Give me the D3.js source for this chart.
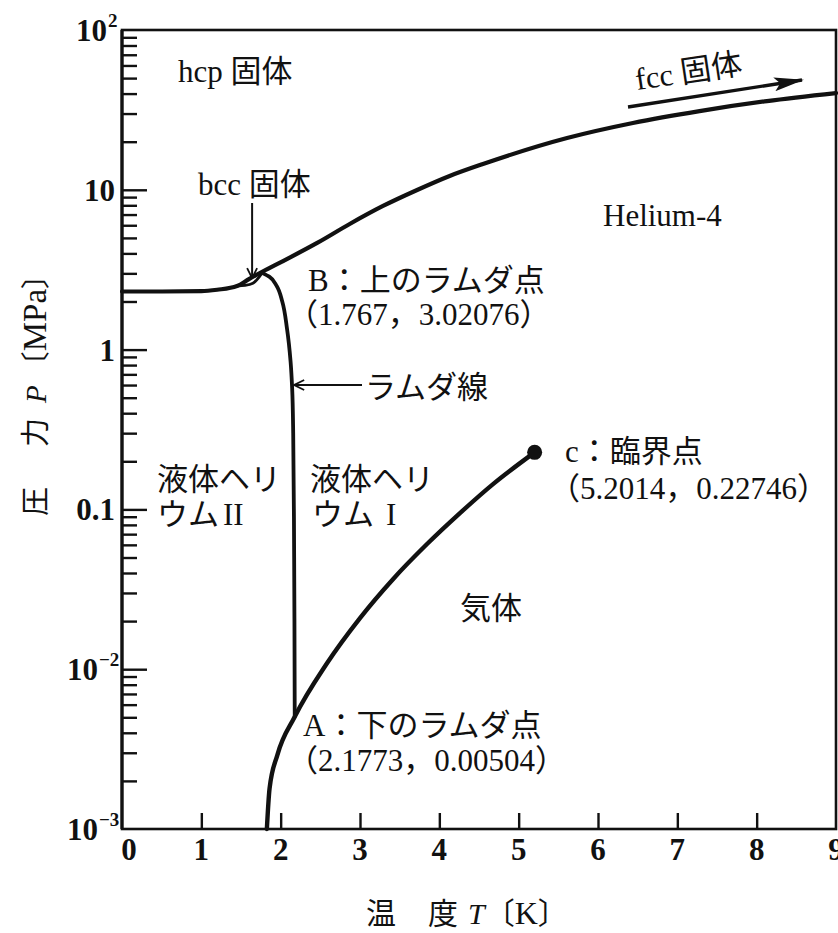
<!DOCTYPE html>
<html>
<head>
<meta charset="utf-8">
<script src="https://cdn.jsdelivr.net/npm/d3@7"></script>
<style>
  html, body { margin: 0; padding: 0; background: #fff; }
  svg { display: block; }
  .lbl { font-family: "Liberation Serif", "Noto Sans CJK JP", serif; fill: #111; }
  .cjk { font-family: "Noto Sans CJK JP", sans-serif; }
  .tick-num { font-family: "Liberation Serif", serif; font-weight: bold; fill: #111; }
</style>
</head>
<body>
<svg id="chart" width="838" height="933"></svg>
<script>
// ---- axes ----
const tempTicks = [0, 1, 2, 3, 4, 5, 6, 7, 8, 9];
const pressureDecades = [1e-3, 1e-2, 1e-1, 1, 10, 100];
const pressureBase = ["10", "10", "0.1", "1", "10", "10"];
const pressureExp = ["−3", "−2", "", "", "", "2"];

// ---- phase boundaries of helium-4 (T in K, P in MPa) ----
// melting curve: liquid–hcp, hcp–bcc, then liquid–hcp/fcc up to 9 K
const meltT = [0, 0.5, 1.0, 1.2, 1.45, 1.6, 1.767, 2.03, 2.46, 2.87, 3.29, 3.72, 4.13, 4.55, 5.61, 6.44, 7.28, 8.13, 9.0];
const meltP = [2.31, 2.31, 2.32, 2.37, 2.50, 2.76, 3.07, 3.58, 4.65, 6.11, 7.92, 9.97, 12.2, 14.5, 21.1, 26.2, 31.1, 35.9, 40.3];
// lower edge of the bcc pocket (bcc–liquid)
const bccT = [1.45, 1.55, 1.65, 1.767];
const bccP = [2.50, 2.52, 2.60, 3.02076];
// lambda line from B down to A
const lambdaT = [1.767, 1.86, 1.95, 2.02, 2.08, 2.125, 2.145, 2.158, 2.17, 2.1773];
const lambdaP = [3.02076, 2.85, 2.5, 2.0, 1.35, 0.84, 0.57, 0.3, 0.05, 0.00504];
// saturated vapour pressure curve up to the critical point
const vaporT = [1.826, 1.86, 1.96, 2.1773, 2.584, 3.0, 3.416, 3.845, 4.26, 4.677, 5.2014];
const vaporP = [0.001, 0.00179, 0.00292, 0.00504, 0.0109, 0.0209, 0.0366, 0.0607, 0.0948, 0.144, 0.22746];
// special points
const lambdaLowT = 2.1773, lambdaLowP = 0.00504;   // A
const lambdaHighT = 1.767, lambdaHighP = 3.02076;  // B
const criticalT = 5.2014, criticalP = 0.22746;     // c

const svg = d3.select("#chart");
const W = 838, H = 933;
const M = { left: 122, top: 30, right: 2, bottom: 104 };

const x = d3.scaleLinear().domain([0, 9]).range([M.left, W - M.right]);
const y = d3.scaleLog().domain([1e-3, 100]).range([H - M.bottom, M.top]);

const ink = "#111";

// ---- ticks ----
const minorP = [];
pressureDecades.slice(0, -1).forEach(d => { for (let k = 2; k <= 9; k++) minorP.push(d * k); });

const yMajorAxis = d3.axisLeft(y).tickValues(pressureDecades.slice(1, -1)).tickSize(-25).tickFormat(() => "");
const yMinorAxis = d3.axisLeft(y).tickValues(minorP).tickSize(-15).tickFormat(() => "");
const xAxis = d3.axisBottom(x).tickValues(tempTicks.slice(1, -1)).tickSize(-16).tickFormat(() => "");

function styleAxis(g) {
  g.select(".domain").remove();
  g.selectAll(".tick line").attr("stroke", ink).attr("stroke-width", 2.4);
}
svg.append("g").attr("transform", `translate(${M.left},0)`).call(yMajorAxis).call(styleAxis);
svg.append("g").attr("transform", `translate(${M.left},0)`).call(yMinorAxis).call(styleAxis);
svg.append("g").attr("transform", `translate(0,${H - M.bottom})`).call(xAxis).call(styleAxis);

// frame
svg.append("rect")
  .attr("x", M.left).attr("y", M.top)
  .attr("width", W - M.right - M.left).attr("height", H - M.bottom - M.top)
  .attr("fill", "none").attr("stroke", ink).attr("stroke-width", 2.6);
svg.append("line").attr("x1", M.left).attr("x2", M.left).attr("y1", M.top).attr("y2", H - M.bottom)
  .attr("stroke", ink).attr("stroke-width", 3.2);

// tick labels
tempTicks.forEach(t => {
  svg.append("text").attr("class", "tick-num")
    .attr("x", x(t) + (t === 0 ? 7 : 0)).attr("y", H - M.bottom + 31)
    .attr("text-anchor", "middle").attr("font-size", 31)
    .text(t);
});
pressureDecades.forEach((p, i) => {
  const shift = pressureExp[i] ? (pressureExp[i].length > 1 ? 17 : 8) : 0;
  svg.append("text").attr("class", "tick-num")
    .attr("x", M.left - 7 - shift)
    .attr("y", y(p) + 11)
    .attr("text-anchor", "end").attr("font-size", 31)
    .text(pressureBase[i]);
  if (pressureExp[i]) {
    svg.append("text").attr("class", "tick-num")
      .attr("x", M.left - 6 - shift)
      .attr("y", y(p) - 3)
      .attr("font-size", 19)
      .text(pressureExp[i]);
  }
});

// ---- curves ----
const zip = (ts, ps) => ts.map((t, i) => [t, ps[i]]);
const lineX = d3.line().x(d => x(d[0])).y(d => y(d[1])).curve(d3.curveMonotoneX);
const lineY = d3.line().x(d => x(d[0])).y(d => y(d[1])).curve(d3.curveMonotoneY);

const curves = svg.append("g").attr("fill", "none").attr("stroke", ink)
  .attr("stroke-linecap", "round").attr("stroke-linejoin", "round");
curves.append("path").attr("d", lineX(zip(meltT, meltP))).attr("stroke-width", 4.2);
curves.append("path").attr("d", lineX(zip(bccT, bccP))).attr("stroke-width", 2.8);
curves.append("path").attr("d", lineY(zip(lambdaT, lambdaP))).attr("stroke-width", 3.8);
curves.append("path").attr("d", lineX(zip(vaporT, vaporP))).attr("stroke-width", 4.4);

svg.append("circle").attr("cx", x(criticalT)).attr("cy", y(criticalP)).attr("r", 7.5).attr("fill", ink);

// ---- arrows ----
const defs = svg.append("defs");
defs.append("marker").attr("id", "openHead").attr("viewBox", "0 0 12 12")
  .attr("refX", 11).attr("refY", 6).attr("markerWidth", 12).attr("markerHeight", 12)
  .attr("markerUnits", "userSpaceOnUse").attr("orient", "auto")
  .append("path").attr("d", "M1,1 L11,6 L1,11").attr("fill", "none").attr("stroke", ink).attr("stroke-width", 1.8);
defs.append("marker").attr("id", "solidHead").attr("viewBox", "0 0 30 14")
  .attr("refX", 28).attr("refY", 7).attr("markerWidth", 30).attr("markerHeight", 14)
  .attr("markerUnits", "userSpaceOnUse").attr("orient", "auto")
  .append("path").attr("d", "M0,0 L30,7 L0,14 L6,7 Z").attr("fill", ink);

const arrows = svg.append("g").attr("stroke", ink).attr("fill", "none");
// bcc pointer
arrows.append("line").attr("x1", x(1.64)).attr("y1", 203).attr("x2", x(1.64)).attr("y2", y(2.8))
  .attr("stroke-width", 2).attr("marker-end", "url(#openHead)");
// lambda line pointer
arrows.append("line").attr("x1", 362).attr("y1", 385).attr("x2", x(2.145) + 2).attr("y2", 385)
  .attr("stroke-width", 2).attr("marker-end", "url(#openHead)");
// fcc pointer
arrows.append("line").attr("x1", 628).attr("y1", 107).attr("x2", 802).attr("y2", 80)
  .attr("stroke-width", 3.4).attr("marker-end", "url(#solidHead)");

// ---- labels ----
function label(px, py, parts, size = 31, extra) {
  const t = svg.append("text").attr("class", "lbl").attr("x", px).attr("y", py).attr("font-size", size);
  if (extra) extra(t);
  parts.forEach(p => {
    const s = t.append("tspan").text(p.s);
    if (p.cjk) s.attr("class", "cjk");
    if (p.it) s.attr("font-style", "italic");
    if (p.dx) s.attr("dx", p.dx);
    if (p.size) s.attr("font-size", p.size);
  });
  return t;
}
const coords = (a, b) => [{ s: "（", cjk: 1 }, { s: a }, { s: "，", cjk: 1 }, { s: b }, { s: "）", cjk: 1 }];

label(178, 82, [{ s: "hcp " }, { s: "固体", cjk: 1 }]);
label(198, 195, [{ s: "bcc " }, { s: "固体", cjk: 1 }]);
label(637, 90, [{ s: "fcc " }, { s: "固体", cjk: 1 }], 31, t => t.attr("transform", "rotate(-8.6 637 90)"));
label(603, 226, [{ s: "Helium-4" }]);

label(308, 291, [{ s: "B" }, { s: "：上のラムダ点", cjk: 1 }]);
label(287, 325, coords(String(lambdaHighT), "3.02076"));
label(365, 398, [{ s: "ラムダ線", cjk: 1 }]);

label(565, 462, [{ s: "c" }, { s: "：臨界点", cjk: 1 }]);
label(549, 499, coords("5.2014", "0.22746"));

label(157, 490, [{ s: "液体ヘリ", cjk: 1 }]);
label(157, 525, [{ s: "ウム", cjk: 1 }, { s: "II", dx: 4 }]);
label(310, 490, [{ s: "液体ヘリ", cjk: 1 }]);
label(312, 525, [{ s: "ウム", cjk: 1 }, { s: "I", dx: 12 }]);

label(460, 619, [{ s: "気体", cjk: 1 }]);

label(303, 736, [{ s: "A" }, { s: "：下のラムダ点", cjk: 1 }]);
label(287, 771, coords(String(lambdaLowT), "0.00504"));

// axis titles
label(366, 924, [{ s: "温", cjk: 1 }, { s: "度", cjk: 1, dx: 32 }, { s: "T", it: 1, dx: 10 }, { s: "〔", cjk: 1 }, { s: "K", size: 32 }, { s: "〕", cjk: 1 }], 30);
label(0, 0, [{ s: "圧", cjk: 1 }, { s: "力", cjk: 1, dx: 40 }, { s: "P", it: 1, dx: 15 }, { s: "〔", cjk: 1, dx: 5 }, { s: "MPa", size: 33 }, { s: "〕", cjk: 1 }], 29,
  t => t.attr("transform", "translate(46,516) rotate(-90)"));
</script>
</body>
</html>
